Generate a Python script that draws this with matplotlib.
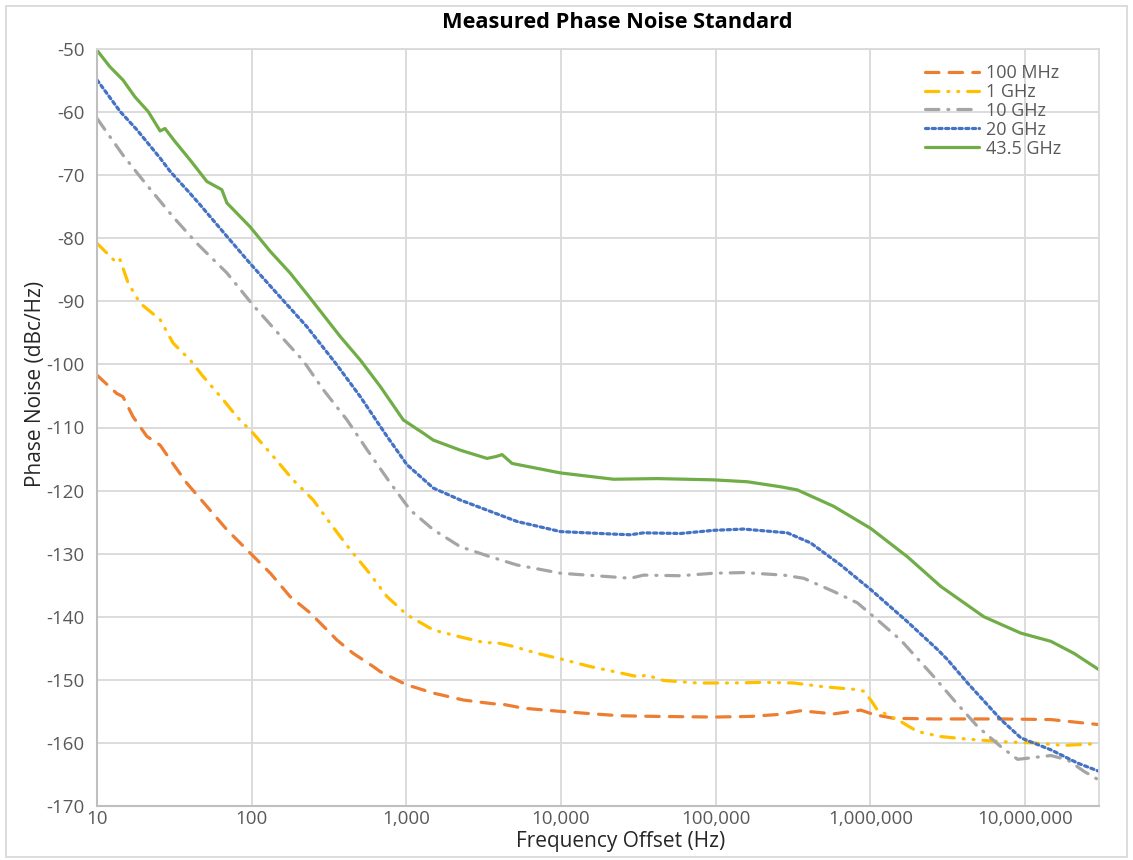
import matplotlib
matplotlib.use("Agg")
import matplotlib.pyplot as plt
from matplotlib.ticker import FixedLocator, FuncFormatter, NullLocator
from matplotlib.patches import Rectangle

plt.rcParams['font.family'] = ['Open Sans', 'DejaVu Sans']

# ---------------- data ----------------
f_100M = [10, 13.4, 14.7, 17.1, 21.0, 25.6, 29.7, 38.0, 51.3, 69.1, 97.7, 132, 177, 239, 322, 356,
          453, 611, 678, 913, 1009, 1493, 2335, 3650, 4051, 5706, 9904, 16190, 24210, 41830, 96790,
          168000, 250000, 353900, 578400, 865000, 1050000, 1414000, 2566000, 6963000, 14670000, 30000000]
pn_100M = [-101.7, -104.6, -105.1, -108.3, -111.4, -112.8, -115.1, -118.8, -122.5, -126.2, -129.9, -133.1,
           -136.8, -139.4, -142.6, -143.7, -145.8, -147.9, -148.7, -150.3, -150.8, -152.1, -153.2, -153.8,
           -153.8, -154.5, -155.0, -155.4, -155.7, -155.8, -155.9, -155.8, -155.5, -154.9, -155.4, -154.8,
           -155.5, -156.1, -156.2, -156.2, -156.3, -157.1]

f_1G = [10, 13.4, 14.1, 15.9, 19.0, 25.6, 31.0, 40, 48.5, 65.4, 80.2, 102, 138, 185, 250, 322, 434, 556,
        749, 1009, 1493, 2233, 3323, 3650, 4918, 6998, 10360, 15480, 23050, 32620, 35140, 45940, 75930,
        124700, 203900, 318800, 498300, 779000, 904500, 1004000, 1109000, 1494000, 2013000, 2849000,
        4240000, 6963000, 11380000, 17800000, 30000000]
pn_1G = [-80.8, -83.9, -83.4, -87.1, -90.3, -92.9, -96.6, -99.3, -101.9, -105.6, -108.3, -110.9, -114.6,
         -118.3, -121.5, -125.2, -129.4, -132.6, -136.8, -139.7, -142.1, -143.2, -144.2, -144.0, -144.7,
         -145.8, -146.8, -147.9, -148.8, -149.6, -149.2, -150.1, -150.5, -150.5, -150.4, -150.5, -151.1,
         -151.5, -151.8, -153.2, -154.8, -156.3, -158.2, -159.0, -159.4, -159.8, -160.0, -160.4, -160.1]

f_10G = [10, 14.7, 19.8, 31.0, 44.2, 69.1, 102, 145, 215, 290, 413, 556, 787, 1060, 1493, 2233, 3491,
         5196, 9904, 21810, 28100, 34110, 59190, 96790, 151300, 274600, 370000, 578400, 823000, 1050000,
         1569000, 2566000, 3457000, 4920000, 6963000, 8929000, 10570000, 14670000, 18810000, 23980000,
         30000000]
pn_10G = [-61.0, -66.8, -70.8, -76.6, -80.8, -85.5, -90.6, -94.8, -99.4, -104.0, -108.8, -113.5, -118.8,
          -123.1, -126.2, -128.9, -130.5, -131.8, -133.1, -133.7, -133.9, -133.4, -133.5, -133.1, -133.0,
          -133.4, -133.9, -136.0, -137.8, -140.0, -143.7, -149.5, -153.2, -157.4, -160.6, -162.6, -162.4,
          -162.0, -162.7, -164.5, -165.9]

f_20G = [10, 14.1, 18.1, 25.6, 29.7, 40, 46.4, 69.1, 97.7, 145, 227, 356, 503, 749, 1009, 1493, 2233,
         3491, 5196, 9904, 21810, 28100, 34110, 59190, 96790, 151300, 290200, 410600, 642000, 1004000,
         1734000, 2712000, 3147000, 4240000, 6963000, 9380000, 14670000, 21830000, 30000000]
pn_20G = [-54.9, -59.9, -62.8, -67.3, -69.4, -72.9, -74.7, -79.7, -84.0, -88.7, -94.0, -100.1, -105.1,
          -111.4, -115.9, -119.6, -121.5, -123.3, -124.9, -126.5, -126.9, -127.0, -126.7, -126.8, -126.3,
          -126.1, -126.7, -128.3, -131.8, -135.7, -140.8, -145.2, -146.8, -150.5, -156.3, -159.2, -161.1,
          -163.2, -164.5]

f_43G = [10, 12.1, 14.7, 17.6, 21.4, 25.6, 27.5, 32, 40, 51.3, 64.1, 69.1, 97.7, 132, 177, 239, 374, 503,
         678, 955, 1286, 1493, 2233, 3323, 3800, 4155, 4824, 9904, 21810, 41830, 96790, 159900, 262700,
         337000, 578400, 1004000, 1734000, 2849000, 5405000, 9380000, 14670000, 20660000, 30000000]
pn_43G = [-50.2, -52.8, -54.9, -57.6, -59.9, -63.0, -62.6, -64.7, -67.6, -71.0, -72.3, -74.4, -78.2,
          -82.1, -85.5, -89.5, -95.6, -99.3, -103.5, -108.8, -110.9, -112.0, -113.6, -114.9, -114.6,
          -114.3, -115.7, -117.2, -118.2, -118.1, -118.3, -118.6, -119.4, -119.9, -122.5, -126.0, -130.5,
          -135.2, -140.0, -142.6, -143.9, -145.8, -148.4]

series_labels = ["100 MHz", "1 GHz", "10 GHz", "20 GHz", "43.5 GHz"]
x_ticks = [10, 100, 1000, 10000, 100000, 1000000, 10000000]
y_ticks = [-50, -60, -70, -80, -90, -100, -110, -120, -130, -140, -150, -160, -170]

# ---------------- figure ----------------
W, H = 1133, 860
fig = plt.figure(figsize=(W / 100, H / 100), dpi=100)
ax = fig.add_axes([97 / W, 1 - 806 / H, (1099 - 97) / W, (806 - 49) / H])

lw = 2.3
styles = [
    dict(color="#ED7D31", dashes=(4.2, 3.2)),
    dict(color="#FFC000", dashes=(4.2, 2.8, 0.3, 2.8, 0.3, 2.8)),
    dict(color="#A5A5A5", dashes=(4.2, 2.8, 0.3, 2.8)),
    dict(color="#4472C4", dashes=(1.0, 1.1)),
    dict(color="#70AD47"),
]
data = [(f_100M, pn_100M), (f_1G, pn_1G), (f_10G, pn_10G), (f_20G, pn_20G), (f_43G, pn_43G)]
for (fx, py), lab, st in zip(data, series_labels, styles):
    ax.plot(fx, py, lw=lw, label=lab, dash_capstyle="round", solid_capstyle="round", **st)

ax.set_xscale("log")
ax.set_xlim(10, 30000000)
ax.set_ylim(-170, -50)
ax.xaxis.set_major_locator(FixedLocator(x_ticks))
ax.xaxis.set_minor_locator(NullLocator())
ax.xaxis.set_major_formatter(FuncFormatter(lambda v, p: f"{int(round(v)):,}"))
ax.yaxis.set_major_locator(FixedLocator(y_ticks))
ax.yaxis.set_major_formatter(FuncFormatter(lambda v, p: f"{int(v)}"))

ax.grid(True, color="#D9D9D9", lw=1.3)
ax.set_axisbelow(True)
ax.tick_params(length=0, labelsize=13.5, labelcolor="#595959")
ax.tick_params(axis="x", pad=3)
ax.tick_params(axis="y", pad=9)
for s in ["top", "right"]:
    ax.spines[s].set_color("#D9D9D9")
    ax.spines[s].set_linewidth(1.3)
for s in ["left", "bottom"]:
    ax.spines[s].set_color("#BFBFBF")
    ax.spines[s].set_linewidth(1.5)

fig.text(621 / W, 1 - 841 / H, "Frequency Offset (Hz)", ha="center", va="center",
         fontsize=15, color="#262626")
fig.text(36 / W, 1 - 384 / H, "Phase Noise (dBc/Hz)", ha="center", va="center", rotation=90,
         fontsize=15, color="#262626")
fig.text(617 / W, 1 - 23 / H, "Measured Phase Noise Standard", ha="center", va="center",
         fontsize=15.7, fontweight="bold", color="black")

leg = ax.legend(loc="upper left", bbox_to_anchor=((925 - 97) / (1099 - 97), 1 - (64 - 49) / (806 - 49)),
                frameon=False, fontsize=13, labelcolor="#595959", handlelength=3.0,
                handletextpad=0.4, labelspacing=0.05, borderaxespad=0.0, borderpad=0.0)

fig.patches.append(Rectangle((6 / W, 3 / H), (W - 12) / W, (H - 9) / H, transform=fig.transFigure,
                             fill=False, edgecolor="#D9D9D9", lw=1.3))

fig.savefig("out.png", dpi=100)
